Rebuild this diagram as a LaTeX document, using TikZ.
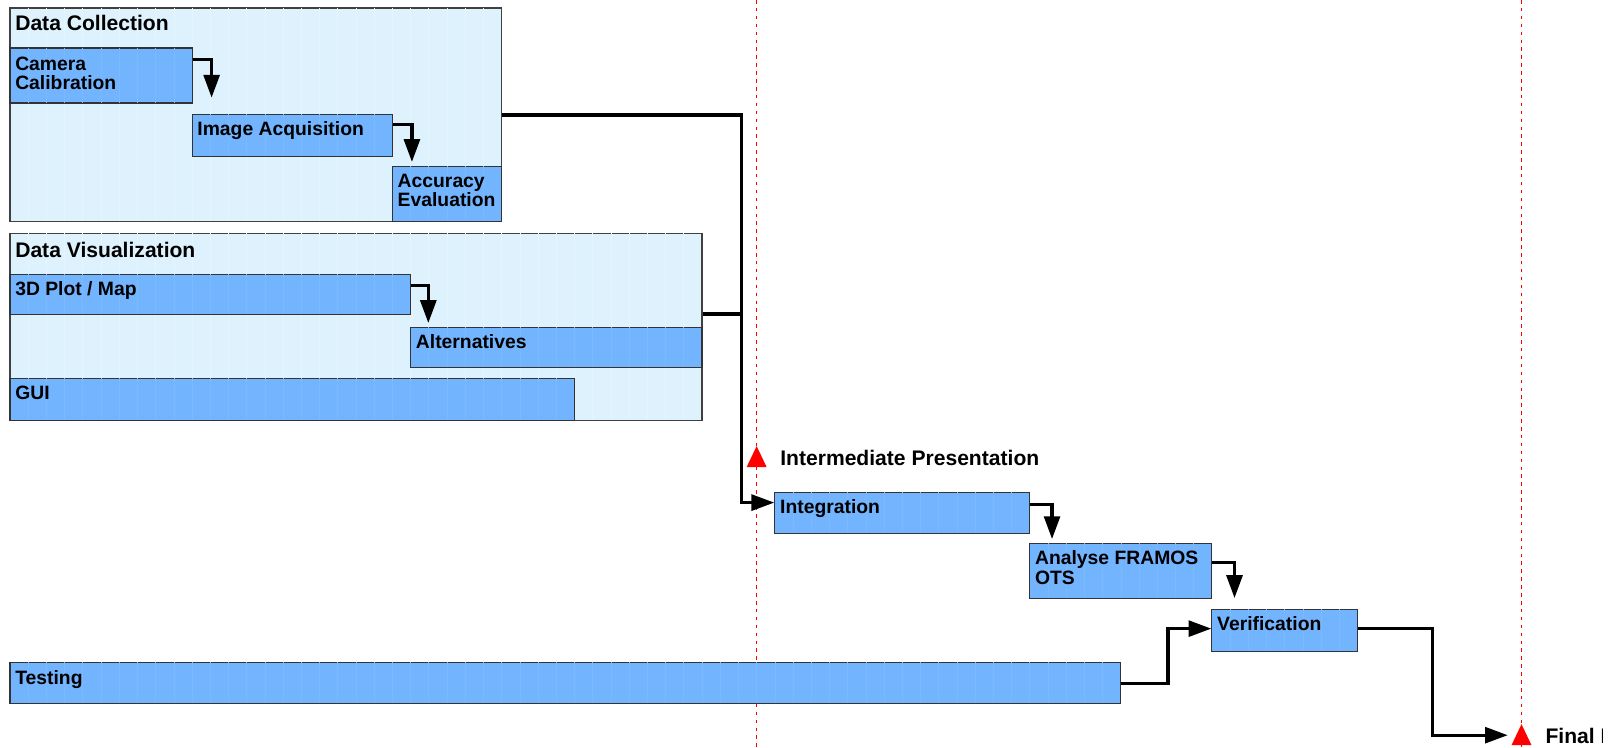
\documentclass[tikz,border=0pt]{standalone}
\usepackage{fontspec}
\setmainfont{Liberation Sans}
\usetikzlibrary{positioning,fit,calc,arrows.meta}
\definecolor{barblue}{HTML}{73B4FF}
\definecolor{grpblue}{HTML}{DDF2FD}
\definecolor{barline}{HTML}{7BB9FF}
\definecolor{grpline}{HTML}{E4F5FE}
\begin{document}
\begin{tikzpicture}[x=0.3642cm,y=-0.02cm]
\tikzset{group/.style = {draw=black!75,fill=grpblue,line width=0.6pt,inner sep=0pt}}
\tikzset{task/.style = {draw=black!80,fill=barblue,line width=0.6pt,inner sep=0pt}}
\tikzset{tasklabel/.style = {anchor=north west,inner sep=0pt,align=left,font=\fontsize{11}{11}\selectfont\bfseries}}
\tikzset{grouplabel/.style = {anchor=north west,inner sep=0pt,font=\fontsize{12}{12}\selectfont\bfseries}}
\tikzset{mslabel/.style = {anchor=base west,inner sep=0pt,font=\fontsize{12}{12}\selectfont\bfseries}}
\tikzset{dep/.style = {line width=1.9pt,-{Triangle[length=13pt,width=9pt]}}}
\tikzset{link/.style = {line width=1.9pt}}
\tikzset{deadline/.style = {red,line width=0.6pt,dash pattern=on 2pt off 2.5pt}}
\useasboundingbox (-0.549,0) rectangle (88.41,747);
% deadlines
\draw[deadline] (41,0) -- (41,747);
\draw[deadline] (83,0) -- (83,747);
% groups
\node[group, fit={(0,8) (27,221)}] (dc) {};
\node[group, fit={(0,233) (38,420)}] (dv) {};
\foreach \n/\a/\b in {dc/0/27, dv/0/38} {
  \pgfmathtruncatemacro\s{\a+1}
  \pgfmathtruncatemacro\e{\b-1}
  \foreach \d in {\s,...,\e}
    \draw[grpline, shorten <=0.4pt, shorten >=0.4pt] (\d,0 |- \n.north) -- (\d,0 |- \n.south);
}
% tasks
\node[task, fit={(0,48) (10,103)}] (cam) {};
\node[task, fit={(10,114) (21,156)}] (ia) {};
\node[task, fit={(21,166) (27,221)}] (acc) {};
\node[task, fit={(0,274) (22,314)}] (plot) {};
\node[task, fit={(22,327) (38,367)}] (alt) {};
\node[task, fit={(0,378) (31,420)}] (gui) {};
\node[task, fit={(42,492) (56,533)}] (int) {};
\node[task, fit={(56,543) (66,598)}] (ana) {};
\node[task, fit={(66,609) (74,651)}] (ver) {};
\node[task, fit={(0,662) (61,703)}] (test) {};
\foreach \n/\a/\b in {cam/0/10, ia/10/21, acc/21/27, plot/0/22, alt/22/38, gui/0/31,
                      int/42/56, ana/56/66, ver/66/74, test/0/61} {
  \pgfmathtruncatemacro\s{\a+1}
  \pgfmathtruncatemacro\e{\b-1}
  \foreach \d in {\s,...,\e}
    \draw[barline, shorten <=0.4pt, shorten >=0.4pt] (\d,0 |- \n.north) -- (\d,0 |- \n.south);
}
% labels
\node[grouplabel] (dc-t) at ($(dc.north west)+(0.3,7)$) {Data Collection};
\node[grouplabel] (dv-t) at ($(dv.north west)+(0.3,9)$) {Data Visualization};
\node[tasklabel] (cam-t) at ($(cam.north west)+(0.3,9)$) {Camera\\Calibration};
\node[tasklabel] (ia-t) at ($(ia.north west)+(0.3,8)$) {Image Acquisition};
\node[tasklabel] (acc-t) at ($(acc.north west)+(0.3,8)$) {Accuracy\\Evaluation};
\node[tasklabel] (plot-t) at ($(plot.north west)+(0.3,8)$) {3D Plot / Map};
\node[tasklabel] (alt-t) at ($(alt.north west)+(0.3,8)$) {Alternatives};
\node[tasklabel] (gui-t) at ($(gui.north west)+(0.3,8)$) {GUI};
\node[tasklabel] (int-t) at ($(int.north west)+(0.3,8)$) {Integration};
\node[tasklabel] (ana-t) at ($(ana.north west)+(0.3,8)$) {Analyse FRAMOS\\OTS};
\node[tasklabel] (ver-t) at ($(ver.north west)+(0.3,8)$) {Verification};
\node[tasklabel] (test-t) at ($(test.north west)+(0.3,8)$) {Testing};
% milestones
\coordinate (m1) at (41,457);
\coordinate (m2) at (83,735);
\fill[red] ($(m1)+(0,-11)$) -- ($(m1)+(0.55,10)$) -- ($(m1)+(-0.55,10)$) -- cycle;
\fill[red] ($(m2)+(0,-11)$) -- ($(m2)+(0.55,10)$) -- ($(m2)+(-0.55,10)$) -- cycle;
\node[mslabel] (m1-t) at (42.28,465) {Intermediate Presentation};
\begin{scope}
\clip (80,600) rectangle (87.45,747);
\node[mslabel] (m2-t) at (84.3,743) {Final Presentation};
\end{scope}
% dependencies
\draw[dep, shorten >=9pt] ($(cam.north east)+(0,12)$) -| ($(ia.north west)+(1.1,0)$);
\draw[dep, shorten >=2pt] ($(ia.north east)+(0,11)$) -| ($(acc.north west)+(1.1,0)$);
\draw[dep, shorten >=2pt] ($(plot.north east)+(0,12)$) -| ($(alt.north west)+(1.0,0)$);
\draw[dep, shorten >=2pt] ($(int.north east)+(0,13)$) -| ($(ana.north west)+(1.25,0)$);
\draw[dep, shorten >=6pt] ($(ana.north east)+(0,20)$) -| ($(ver.north west)+(1.27,0)$);
\draw[dep] ($(dc.north east)+(0,107.5)$) -| ($(int.north west)+(-1.82,11)$) -- ($(int.north west)+(0,11)$);
\draw[link] ($(dv.north east)+(0,81.5)$) -- ++(2.18,0);
\draw[dep] ($(test.north east)+(0,22)$) -- ++(2.55,0) |- ($(ver.north west)+(0,20)$);
\draw[dep] ($(ver.north east)+(0,20)$) -- ++(4.1,0) |- ($(m2)+(-0.75,0)$);
\end{tikzpicture}
\end{document}
